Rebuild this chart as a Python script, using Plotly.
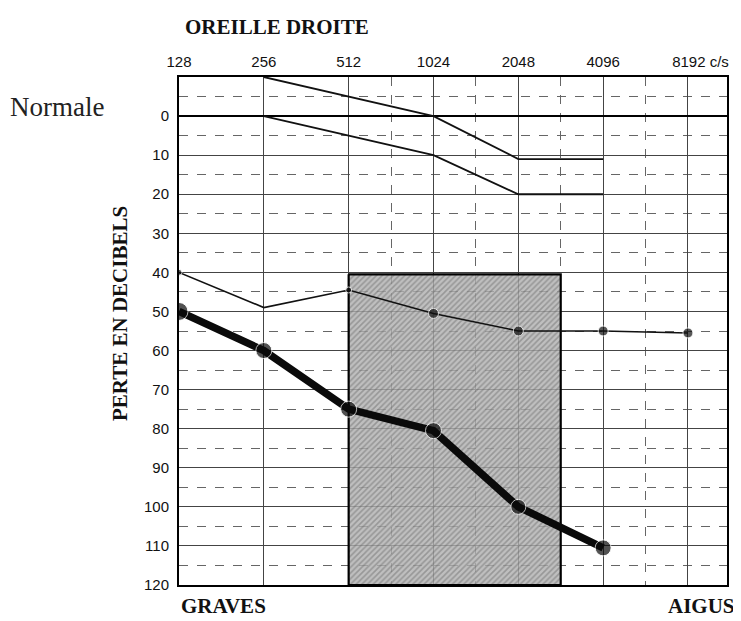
import math
import plotly.graph_objects as go

# ---------------- data ----------------
freqs = [128, 256, 512, 1024, 2048, 4096, 8192]
freq_labels = ["128", "256", "512", "1024", "2048", "4096", "\u00a0" * 6 + "8192 c/s"]
half_octaves = [724, 1448, 2896, 5793]

db_ticks = [0, 10, 20, 30, 40, 50, 60, 70, 80, 90, 100, 110, 120]
db_minor = [-5, 5, 15, 25, 35, 45, 55, 65, 75, 85, 95, 105, 115]

# normal-hearing band (upper / lower limits)
normal_upper_f = [256, 1024, 2048, 4096]
normal_upper_db = [-10, 0, 11, 11]
normal_lower_f = [256, 1024, 2048, 4096]
normal_lower_db = [0, 10, 20, 20]

# thin curve
thin_f = [128, 256, 512, 1024, 2048, 4096, 8192]
thin_db = [40, 49, 44.5, 50.5, 55, 55, 55.5]
thin_marker = [6, 0, 6, 10, 10, 10, 10]

# thick curve
thick_f = [128, 256, 512, 1024, 2048, 4096]
thick_db = [50, 60, 75, 80.5, 100, 110.5]
thick_marker = [18, 16, 16, 16, 15, 16]

# shaded zone
zone_f = [512, 2896]
zone_db = [40.5, 120]

# ---------------- figure ----------------
fig = go.Figure()

fig.add_trace(go.Scatter(
    x=[zone_f[0], zone_f[1], zone_f[1], zone_f[0], zone_f[0]],
    y=[zone_db[0], zone_db[0], zone_db[1], zone_db[1], zone_db[0]],
    mode="lines", fill="toself",
    fillcolor="rgba(145,145,145,0.8)",
    fillpattern=dict(shape="/", bgcolor="rgba(175,175,175,0.8)",
                     fgcolor="rgba(90,90,90,0.8)", size=4, solidity=0.4),
    line=dict(color="black", width=2.2),
    hoverinfo="skip", showlegend=False))

for fx, fy in [(normal_upper_f, normal_upper_db), (normal_lower_f, normal_lower_db)]:
    fig.add_trace(go.Scatter(x=fx, y=fy, mode="lines",
                             line=dict(color="#111", width=1.8),
                             showlegend=False, hoverinfo="skip"))

fig.add_trace(go.Scatter(x=thin_f, y=thin_db, mode="lines+markers",
                         line=dict(color="#111", width=1.6),
                         marker=dict(color="#111", size=thin_marker),
                         showlegend=False))

fig.add_trace(go.Scatter(x=thick_f, y=thick_db, mode="lines+markers",
                         line=dict(color="#0a0a0a", width=7.5),
                         marker=dict(color="#0a0a0a", size=thick_marker),
                         showlegend=False))

x_hi = math.log10(8192) + 0.46 * math.log10(2)

fig.update_xaxes(
    type="log", side="top",
    range=[math.log10(128), x_hi],
    tickvals=freqs, ticktext=freq_labels,
    ticks="", showgrid=True, gridcolor="#444", gridwidth=1,
    minor=dict(tickvals=half_octaves, showgrid=True, griddash="dash",
               gridcolor="#666", gridwidth=1, ticks=""),
    showline=True, mirror=True, linecolor="black", linewidth=2,
    zeroline=False,
    tickfont=dict(family="Liberation Sans, Arial", size=15, color="#111"),
    ticklabelstandoff=2,
)

fig.update_yaxes(
    range=[120, -10], autorange=False,
    tickvals=db_ticks, ticktext=[str(v) for v in db_ticks],
    ticks="", showgrid=True, gridcolor="#444", gridwidth=1,
    minor=dict(tickvals=db_minor, showgrid=True, griddash="dash",
               gridcolor="#666", gridwidth=1, ticks=""),
    zeroline=True, zerolinecolor="black", zerolinewidth=2,
    showline=True, mirror=True, linecolor="black", linewidth=2,
    tickfont=dict(family="Liberation Sans, Arial", size=15, color="#111"),
    ticklabelstandoff=5,
)

serif_b = dict(family="Liberation Serif, Times New Roman", size=21, color="#111")

# plot area in window pixels: x 179..727, y 77..585
def px(x):
    return (x - 179) / 548

def py(y):
    return (585 - y) / 508

fig.add_annotation(text="<b>OREILLE DROITE</b>", xref="paper", yref="paper",
                   x=px(183), y=py(27), xanchor="left", yanchor="middle",
                   showarrow=False, font=serif_b)
fig.add_annotation(text="<b>PERTE EN DECIBELS</b>", xref="paper", yref="paper",
                   x=px(120), y=py(314), xanchor="center", yanchor="middle",
                   textangle=-90, showarrow=False, font=serif_b)
fig.add_annotation(text="<b>GRAVES</b>", xref="paper", yref="paper",
                   x=px(179), y=py(606), xanchor="left", yanchor="middle",
                   showarrow=False, font=serif_b)
fig.add_annotation(text="<b>AIGUS</b>", xref="paper", yref="paper",
                   x=px(737), y=py(606), xanchor="right", yanchor="middle",
                   showarrow=False, font=serif_b)
fig.add_annotation(text="Normale", xref="paper", yref="paper",
                   x=px(8), y=py(107), xanchor="left", yanchor="middle",
                   showarrow=False,
                   font=dict(family="Liberation Serif, Times New Roman", size=27, color="#222"))

# the page body has an 8px margin, so the figure is sized/offset to compensate
fig.update_layout(
    width=733, height=613,
    margin=dict(l=171, r=14, t=69, b=36),
    paper_bgcolor="white", plot_bgcolor="white",
    showlegend=False,
)

fig.write_html("out.html")
